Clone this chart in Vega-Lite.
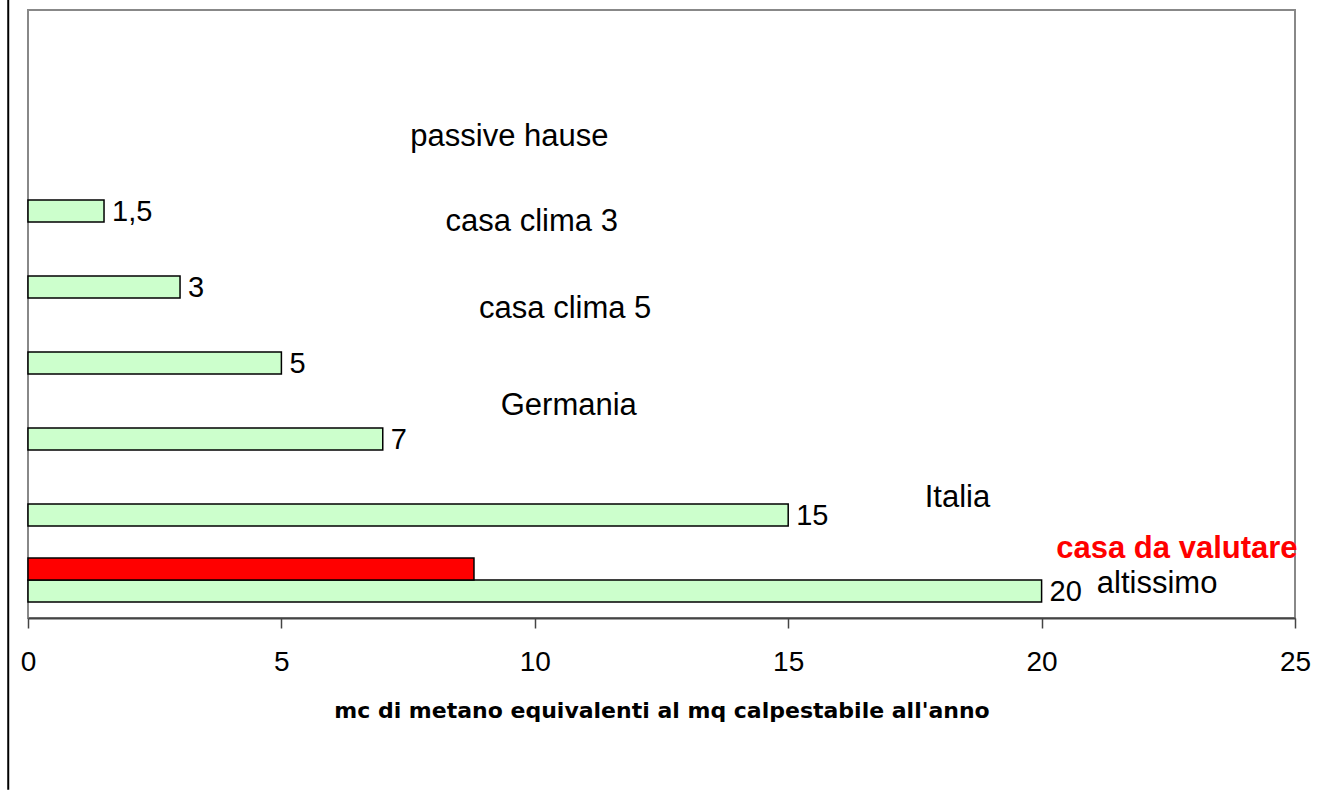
{
  "$schema": "https://vega.github.io/schema/vega-lite/v6.json",
  "width": 1267,
  "height": 608,
  "autosize": {"type": "none"},
  "padding": {"left": 28, "top": 10, "right": 41, "bottom": 182},
  "background": "white",
  "config": {
    "font": "Liberation Sans",
    "view": {"stroke": "#888888", "strokeWidth": 2}
  },
  "datasets": {
    "barre": [
      {"cat": "c3", "serie": "riferimento", "val": 1.5, "etichetta": "1,5"},
      {"cat": "c4", "serie": "riferimento", "val": 3, "etichetta": "3"},
      {"cat": "c5", "serie": "riferimento", "val": 5, "etichetta": "5"},
      {"cat": "c6", "serie": "riferimento", "val": 7, "etichetta": "7"},
      {"cat": "c7", "serie": "riferimento", "val": 15, "etichetta": "15"},
      {"cat": "c8", "serie": "riferimento", "val": 20, "etichetta": "20"},
      {"cat": "c8", "serie": "valutare", "val": 8.8, "etichetta": ""}
    ],
    "note": [
      {"testo": "passive hause", "x": 9.5, "y": 6.33, "tipo": "norma"},
      {"testo": "casa clima 3", "x": 9.94, "y": 5.21, "tipo": "norma"},
      {"testo": "casa clima 5", "x": 10.6, "y": 4.07, "tipo": "norma"},
      {"testo": "Germania", "x": 10.67, "y": 2.79, "tipo": "norma"},
      {"testo": "Italia", "x": 18.34, "y": 1.58, "tipo": "norma"},
      {"testo": "altissimo", "x": 22.28, "y": 0.45, "tipo": "norma"},
      {"testo": "casa da valutare", "x": 22.67, "y": 0.91, "tipo": "casa"}
    ]
  },
  "layer": [
    {
      "data": {"name": "barre"},
      "mark": {"type": "bar", "stroke": "black", "strokeWidth": 1.5},
      "encoding": {
        "y": {"field": "cat", "type": "nominal", "axis": null,
              "scale": {"domain": ["c1","c2","c3","c4","c5","c6","c7","c8"], "paddingInner": 0.421, "paddingOuter": 0.21}},
        "yOffset": {"field": "serie", "type": "nominal",
                    "scale": {"domain": ["valutare", "riferimento"], "paddingInner": 0, "paddingOuter": 0}},
        "x": {"field": "val", "type": "quantitative",
              "scale": {"domain": [0, 25], "nice": false},
              "axis": {
                "values": [0, 5, 10, 15, 20, 25],
                "title": "mc di metano equivalenti al mq calpestabile all'anno",
                "titleFont": "DejaVu Sans", "titleFontSize": 22, "titleFontWeight": "bold", "titleColor": "black", "titlePadding": 24,
                "labelFontSize": 28, "labelColor": "black", "labelPadding": 20, "labelFlush": false, "labelOverlap": false,
                "tickSize": 10, "tickColor": "#444444", "tickWidth": 1.5,
                "domainColor": "#444444", "domainWidth": 2,
                "grid": false
              }},
        "color": {"field": "serie", "type": "nominal", "legend": null,
                  "scale": {"domain": ["riferimento", "valutare"], "range": ["#CCFFCC", "#FF0000"]}}
      }
    },
    {
      "data": {"name": "barre"},
      "mark": {"type": "text", "align": "left", "baseline": "middle", "dx": 8, "dy": 1, "fontSize": 29, "color": "black"},
      "encoding": {
        "y": {"field": "cat", "type": "nominal", "axis": null,
              "scale": {"domain": ["c1","c2","c3","c4","c5","c6","c7","c8"], "paddingInner": 0.421, "paddingOuter": 0.21}},
        "yOffset": {"field": "serie", "type": "nominal",
                    "scale": {"domain": ["valutare", "riferimento"], "paddingInner": 0, "paddingOuter": 0}},
        "x": {"field": "val", "type": "quantitative"},
        "text": {"field": "etichetta"}
      }
    },
    {
      "data": {"name": "note"},
      "transform": [{"filter": "datum.tipo == 'norma'"}],
      "mark": {"type": "text", "align": "center", "baseline": "middle", "fontSize": 31, "color": "black"},
      "encoding": {
        "x": {"field": "x", "type": "quantitative"},
        "y": {"field": "y", "type": "quantitative", "axis": null, "scale": {"domain": [0, 8], "nice": false}},
        "text": {"field": "testo"}
      }
    },
    {
      "data": {"name": "note"},
      "transform": [{"filter": "datum.tipo == 'casa'"}],
      "mark": {"type": "text", "align": "center", "baseline": "middle", "fontSize": 31, "fontWeight": "bold", "color": "#FF0000"},
      "encoding": {
        "x": {"field": "x", "type": "quantitative"},
        "y": {"field": "y", "type": "quantitative", "axis": null, "scale": {"domain": [0, 8], "nice": false}},
        "text": {"field": "testo"}
      }
    },
    {
      "data": {"values": [{"bordo": "cornice"}]},
      "mark": {"type": "rule", "color": "black", "strokeWidth": 2, "clip": false},
      "encoding": {
        "x": {"datum": -0.39},
        "y": {"datum": 8.2, "type": "quantitative", "axis": null, "scale": {"domain": [0, 8], "nice": false}},
        "y2": {"datum": -2.26}
      }
    }
  ],
  "resolve": {"scale": {"y": "independent"}}
}
